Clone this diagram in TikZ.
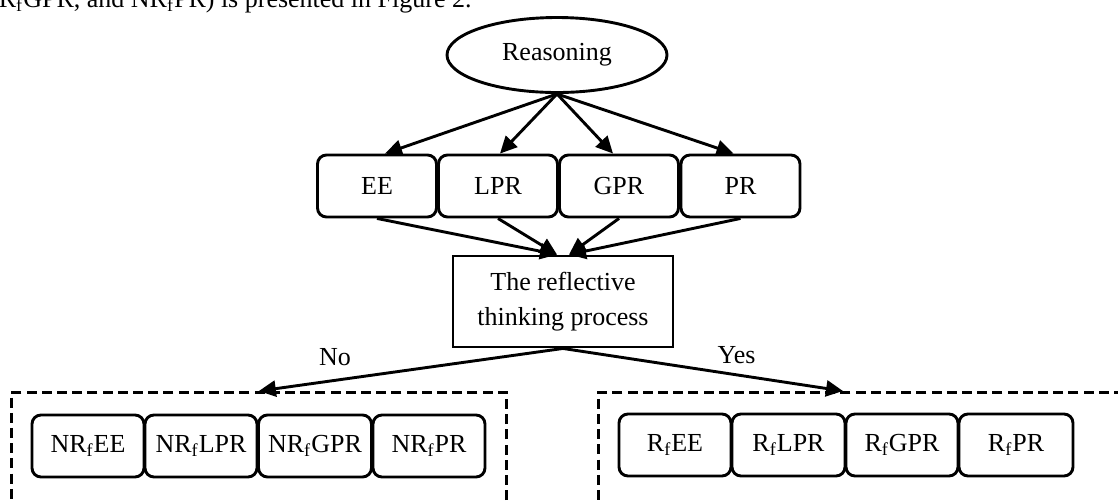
\documentclass[tikz,border=0pt]{standalone}
\usepackage{fontspec}
\setmainfont{Liberation Serif}
\usetikzlibrary{arrows.meta,shapes.geometric}
\begin{document}
\begin{tikzpicture}[x=0.5pt,y=-0.5pt,
  every node/.style={font=\fontsize{13}{15.5}\selectfont, inner sep=0pt},
  rbox/.style={draw, line width=1.45pt, rounded corners=4.5pt, minimum height=31pt, align=center},
  arr/.style={line width=1.45pt, -{Triangle[length=8.5pt,width=8pt]}},
  dbox/.style={draw, line width=1.35pt, dash pattern=on 5pt off 2.6pt}
]
\useasboundingbox (0,0) rectangle (1118,500);
\clip (0,0) rectangle (1118,500);

\node[anchor=base east] (intro) at (472,7) {R\textsubscript{f}GPR, and NR\textsubscript{f}PR) is presented in Figure 2.};

\node[draw, ellipse, line width=1.45pt, minimum width=110pt, minimum height=37.5pt] (reason) at (557,55) {Reasoning};

\node[rbox, minimum width=59.5pt] (ee)  at (377,186) {EE};
\node[rbox, minimum width=59.5pt] (lpr) at (498,186) {LPR};
\node[rbox, minimum width=59.5pt] (gpr) at (619,186) {GPR};
\node[rbox, minimum width=59.5pt] (pr)  at (740.5,186) {PR};

\node[draw, line width=1.45pt, minimum width=110pt, minimum height=45.5pt, align=center] (refl) at (563,301.5) {The reflective\\[2pt]thinking process};

\draw[arr] (reason.south) -- ([xshift=4pt]ee.north);
\draw[arr] (reason.south) -- ([xshift=1pt]lpr.north);
\draw[arr] (reason.south) -- ([xshift=-3pt]gpr.north);
\draw[arr] (reason.south) -- ([xshift=-3.5pt]pr.north);

\draw[arr] (ee.south)  -- ([xshift=-3pt]refl.north);
\draw[arr] (lpr.south) -- ([xshift=-3pt]refl.north);
\draw[arr] (gpr.south) -- ([xshift=3pt]refl.north);
\draw[arr] (pr.south)  -- ([xshift=3pt]refl.north);

\node[dbox, minimum width=247.5pt, minimum height=80pt, anchor=north west] (nobox) at (10,391) {};
\node[dbox, minimum width=270pt, minimum height=80pt, anchor=north west] (yesbox) at (597,391) {};
\coordinate (yestip) at (843,391);

\draw[arr] (refl.south) -- node[pos=0.75, above=6.5pt] (nolab) {No} (nobox.north);
\draw[arr] (refl.south) -- node[pos=0.62, above=5pt] (yeslab) {Yes} (yestip);

\node[rbox, minimum width=56pt] (nee)  at (88,446) {NR\textsubscript{f}EE};
\node[rbox, minimum width=56pt] (nlpr) at (201,446) {NR\textsubscript{f}LPR};
\node[rbox, minimum width=56.5pt] (ngpr) at (315,446) {NR\textsubscript{f}GPR};
\node[rbox, minimum width=56pt] (npr)  at (429,446) {NR\textsubscript{f}PR};

\node[rbox, minimum width=56pt] (ree)  at (675,445) {R\textsubscript{f}EE};
\node[rbox, minimum width=56.5pt] (rlpr) at (788.5,445) {R\textsubscript{f}LPR};
\node[rbox, minimum width=56pt] (rgpr) at (902,445) {R\textsubscript{f}GPR};
\node[rbox, minimum width=57pt] (rpr)  at (1016,445) {R\textsubscript{f}PR};
\end{tikzpicture}
\end{document}
